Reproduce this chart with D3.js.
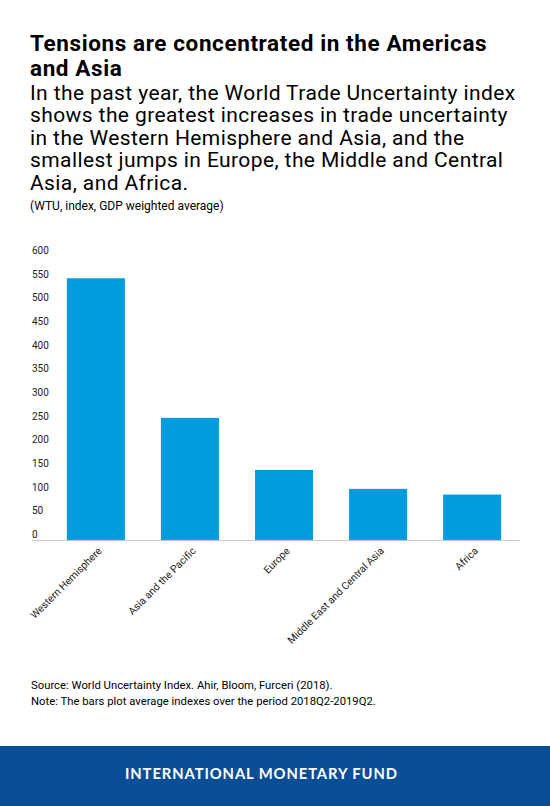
<!DOCTYPE html>
<html>
<head>
<meta charset="utf-8">
<script src="https://cdn.jsdelivr.net/npm/d3@7"></script>
<style>
  html, body { margin: 0; padding: 0; background: #fff; }
  svg { display: block; }
</style>
</head>
<body>
<svg id="chart" width="550" height="806"></svg>
<script>
const categories = ["Western Hemisphere", "Asia and the Pacific", "Europe", "Middle East and Central Asia", "Africa"];
const values = [553, 258, 148, 108, 96];
const yTicks = [0, 50, 100, 150, 200, 250, 300, 350, 400, 450, 500, 550, 600];
const titleLines = ["Tensions are concentrated in the Americas", "and Asia"];
const subtitleLines = [
  "In the past year, the World Trade Uncertainty index",
  "shows the greatest increases in trade uncertainty",
  "in the Western Hemisphere and Asia, and the",
  "smallest jumps in Europe, the Middle and Central",
  "Asia, and Africa."
];
const unitNote = "(WTU, index, GDP weighted average)";
const footNotes = [
  "Source: World Uncertainty Index. Ahir, Bloom, Furceri (2018).",
  "Note: The bars plot average indexes over the period 2018Q2-2019Q2."
];
const footerText = "INTERNATIONAL MONETARY FUND";

const svg = d3.select("#chart");
const W = 550, H = 806;
svg.append("rect").attr("width", W).attr("height", H).attr("fill", "#fff");

// Titles
svg.append("g").selectAll("text").data(titleLines).join("text")
  .attr("x", 30).attr("y", (d, i) => 50.7 + i * 25)
  .attr("font-family", "Roboto, sans-serif").attr("font-weight", 700)
  .attr("font-size", 22.5).attr("letter-spacing", 0.6).attr("fill", "#000").text(d => d);

svg.append("g").selectAll("text").data(subtitleLines).join("text")
  .attr("x", 30).attr("y", (d, i) => 100 + i * 22.4)
  .attr("font-family", "Roboto, sans-serif").attr("font-weight", 400)
  .attr("font-size", 21).attr("letter-spacing", 0.4).attr("fill", "#000").text(d => d);

svg.append("text").attr("x", 30).attr("y", 210)
  .attr("font-family", "Roboto, sans-serif").attr("font-size", 12)
  .attr("fill", "#000").text(unitNote);

// Chart
const y = d3.scaleLinear().domain([0, 600]).range([540, 256]);
const x = d3.scaleBand().domain(categories).range([49, 519])
  .paddingInner(0.383).paddingOuter(0.19);

// y tick labels (left aligned)
const yAxis = d3.axisLeft(y).tickValues(yTicks).tickSize(0).tickPadding(0);
const yg = svg.append("g").attr("transform", "translate(32,0)").call(yAxis);
yg.select(".domain").remove();
yg.selectAll("text")
  .attr("text-anchor", "start").attr("x", 0).attr("dy", "-0.25em")
  .attr("font-family", "Roboto, sans-serif").attr("font-size", 10).attr("fill", "#222");

// bars
svg.append("g").selectAll("rect").data(values).join("rect")
  .attr("x", (d, i) => x(categories[i]))
  .attr("width", x.bandwidth())
  .attr("y", d => y(d))
  .attr("height", d => y(0) - y(d))
  .attr("fill", "#009cde");

// x axis
const xAxis = d3.axisBottom(x).tickSize(0).tickPadding(0);
const xg = svg.append("g").attr("transform", "translate(0,540)").call(xAxis);
xg.select(".domain").remove();
svg.append("line").attr("x1", 32).attr("x2", 520).attr("y1", 540.5).attr("y2", 540.5)
  .attr("stroke", "#c8c8c8").attr("stroke-width", 1);
xg.selectAll("text")
  .attr("text-anchor", "end")
  .attr("font-family", "Roboto, sans-serif").attr("font-size", 10.3).attr("fill", "#222")
  .attr("transform", "translate(4,9) rotate(-45)")
  .attr("y", 0).attr("dy", "0.35em");

// footnotes
svg.append("g").selectAll("text").data(footNotes).join("text")
  .attr("x", 31).attr("y", (d, i) => 689.3 + i * 16)
  .attr("font-family", "Roboto, sans-serif").attr("font-size", 11.3)
  .attr("fill", "#000").text(d => d);

// footer band
svg.append("rect").attr("x", 0).attr("y", 746).attr("width", W).attr("height", 60)
  .attr("fill", "#0a4f96");
svg.append("text").attr("x", 261.5).attr("y", 778.5).attr("text-anchor", "middle")
  .attr("font-family", "Lato, 'Open Sans', sans-serif").attr("font-weight", 700)
  .attr("font-size", 14.8).attr("letter-spacing", 0.9).attr("fill", "#fff")
  .text(footerText);
</script>
</body>
</html>
